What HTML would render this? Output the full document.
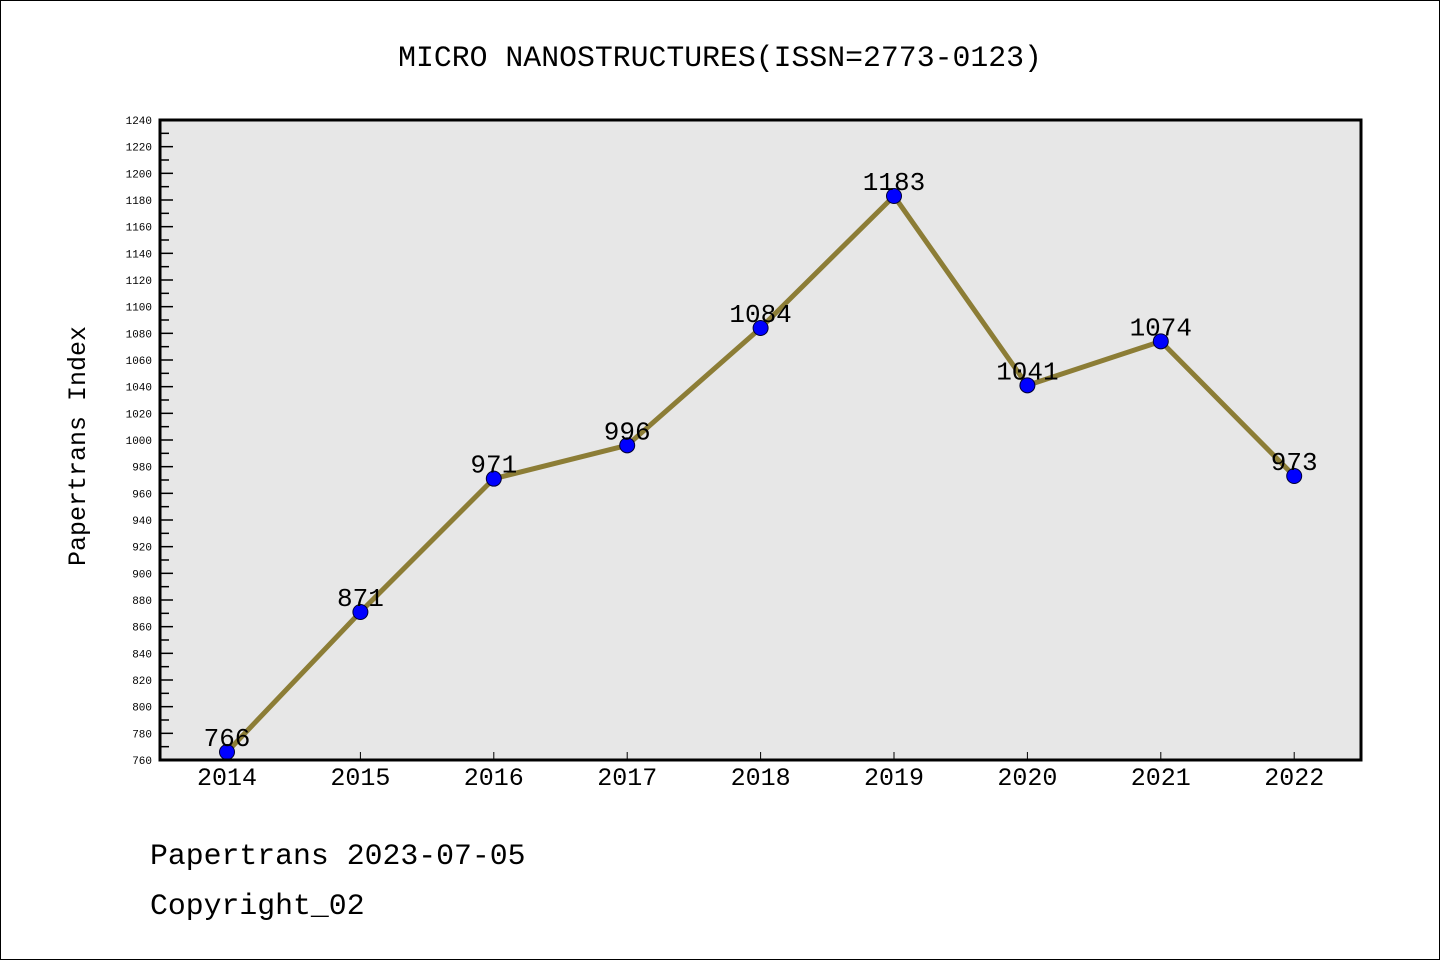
<!DOCTYPE html>
<html><head><meta charset="utf-8"><style>
html,body{margin:0;padding:0;background:#fff}
svg{display:block}
text{font-family:"Liberation Mono","DejaVu Sans Mono",monospace}
</style></head><body>
<svg id="chart" width="1440" height="960" viewBox="0 0 1440 960" xmlns="http://www.w3.org/2000/svg">
<rect x="0.5" y="0.5" width="1439" height="959" fill="#fff" stroke="#000" stroke-width="1"/>
<text x="720" y="66" font-size="29.8" text-anchor="middle" fill="#000">MICRO NANOSTRUCTURES(ISSN=2773-0123)</text>
<rect x="160" y="120" width="1201" height="640" fill="#e7e7e7"/>
<g id="yticks"></g>
<g id="xticks"></g>
<g id="series"></g>
<rect x="160" y="120" width="1201" height="640" fill="none" stroke="#000" stroke-width="3"/>
<text transform="translate(85,446) rotate(-90)" font-size="25" text-anchor="middle" fill="#000">Papertrans Index</text>
<text x="150" y="864" font-size="29.8" fill="#000">Papertrans 2023-07-05</text>
<text x="150" y="914" font-size="29.8" fill="#000">Copyright_02</text>
</svg>
<script>
const years = ["2014","2015","2016","2017","2018","2019","2020","2021","2022"];
const values = [766,871,971,996,1084,1183,1041,1074,973];
const yMin = 760, yMax = 1240, yStep = 20;
const NS = "http://www.w3.org/2000/svg";
const L=160,R=1361,T=120,B=760;
const x0=227,dx=133.4;
function xs(i){return x0+i*dx;}
function ys(v){return B-(v-yMin)/(yMax-yMin)*(B-T);}
function mk(tag,attrs,parent){const e=document.createElementNS(NS,tag);for(const k in attrs)e.setAttribute(k,attrs[k]);parent.appendChild(e);return e;}
const yt=document.getElementById('yticks');
for(let v=yMin;v<=yMax;v+=yStep/2){
  const y=ys(v);const major=(v-yMin)%yStep===0;
  const t=mk('line',{x1:L,x2:L+(major?13:9),y1:y,y2:y,stroke:'#000','stroke-width':1.5},yt);
  
  
  if(major){
    const lb=mk('text',{x:152,y:y+4,'font-size':11,'text-anchor':'end',fill:'#000'},yt);
    
    
    lb.textContent=v;
  }
}
const xt=document.getElementById('xticks');
years.forEach((yr,i)=>{
  const t=mk('line',{x1:xs(i),x2:xs(i),y1:B,y2:B-8,stroke:'#000','stroke-width':1},xt);
  
  
  const lb=mk('text',{x:xs(i),y:785,'font-size':25,'text-anchor':'middle',fill:'#000'},xt);
  
  
  lb.textContent=yr;
});
const s=document.getElementById('series');
const pts=values.map((v,i)=>xs(i)+','+ys(v)).join(' ');
const pl=mk('polyline',{points:pts,fill:'none',stroke:'#8c7d36','stroke-width':5,'stroke-linejoin':'round'},s);


values.forEach((v,i)=>{
  const c=mk('circle',{cx:xs(i),cy:ys(v),r:7.5,fill:'#0000ff',stroke:'#000033','stroke-width':1},s);
  
  
  const lb=mk('text',{x:xs(i),y:ys(v)-6,'font-size':26,'text-anchor':'middle',fill:'#000'},s);
  
  
  lb.textContent=v;
});
</script>
</body></html>
